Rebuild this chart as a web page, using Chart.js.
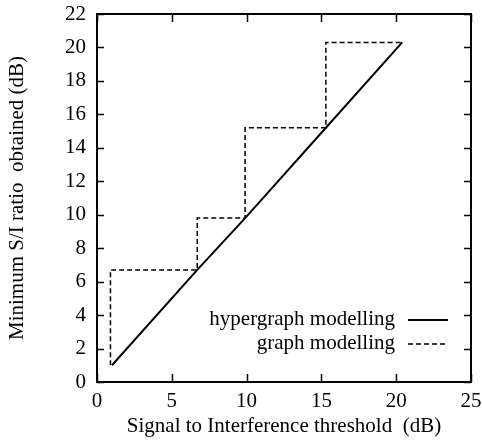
<!DOCTYPE html>
<html>
<head>
<meta charset="utf-8">
<script src="https://cdn.jsdelivr.net/npm/chart.js@4/dist/chart.umd.min.js"></script>
<style>
  body { margin: 0; background: #fff; }
  canvas { display: block; }
</style>
</head>
<body>
<canvas id="myChart" width="482" height="441"></canvas>
<script>
// data
const hyperX = [1.0, 6.7, 9.9, 15.3, 20.4];
const hyperY = [1.0, 6.7, 9.8, 15.2, 20.3];
const graphX = [0.9, 0.9, 6.7, 6.7, 9.9, 9.9, 15.3, 15.3, 20.4];
const graphY = [1.0, 6.7, 6.7, 9.8, 9.8, 15.2, 15.2, 20.3, 20.3];
const xTicks = [0, 5, 10, 15, 20, 25];
const yTicks = [0, 2, 4, 6, 8, 10, 12, 14, 16, 18, 20, 22];
const seriesNames = ['hypergraph modelling', 'graph modelling'];

const FONT = "'Liberation Serif', 'Times New Roman', serif";

function toPoints(xs, ys) {
    return xs.map((x, i) => ({ x: x, y: ys[i] }));
}

// box around the plot with ticks pointing inwards, like gnuplot
const boxPlugin = {
    id: 'box',
    afterDatasetsDraw(chart) {
        const ctx = chart.ctx;
        const a = chart.chartArea;
        const xs = chart.scales.x, ys = chart.scales.y;
        ctx.save();
        ctx.strokeStyle = '#000';
        ctx.lineWidth = 2;
        ctx.strokeRect(a.left, a.top, a.right - a.left, a.bottom - a.top);
        ctx.lineWidth = 1.5;
        ctx.beginPath();
        xs.ticks.forEach(t => {
            const px = Math.round(xs.getPixelForValue(t.value)) + 0.5;
            ctx.moveTo(px, a.bottom); ctx.lineTo(px, a.bottom - 8);
            ctx.moveTo(px, a.top); ctx.lineTo(px, a.top + 8);
        });
        ys.ticks.forEach(t => {
            const py = Math.round(ys.getPixelForValue(t.value)) + 0.5;
            ctx.moveTo(a.left, py); ctx.lineTo(a.left + 7, py);
            ctx.moveTo(a.right, py); ctx.lineTo(a.right - 7, py);
        });
        ctx.stroke();
        ctx.restore();
    }
};

// legend inside the plot: text on the left, line sample on the right
const keyPlugin = {
    id: 'key',
    afterDraw(chart) {
        const ctx = chart.ctx;
        const a = chart.chartArea;
        const textRight = a.right - 76;
        const lineStart = a.right - 63;
        const lineEnd = a.right - 23;
        let y = a.bottom - 63;
        ctx.save();
        ctx.font = '21px ' + FONT;
        ctx.fillStyle = '#000';
        ctx.textAlign = 'right';
        ctx.textBaseline = 'middle';
        chart.data.datasets.forEach(ds => {
            ctx.fillText(ds.label, textRight, y);
            ctx.strokeStyle = '#000';
            ctx.lineWidth = ds.borderWidth;
            ctx.setLineDash(ds.borderDash || []);
            ctx.beginPath();
            ctx.moveTo(lineStart, y + 1);
            ctx.lineTo(lineEnd, y + 1);
            ctx.stroke();
            y += 24;
        });
        ctx.restore();
    }
};

const ctx = document.getElementById('myChart').getContext('2d');
const myChart = new Chart(ctx, {
    type: 'line',
    data: {
        datasets: [{
            label: seriesNames[0],
            data: toPoints(hyperX, hyperY),
            borderColor: '#000',
            borderWidth: 2,
            pointRadius: 0,
            tension: 0
        }, {
            label: seriesNames[1],
            data: toPoints(graphX, graphY),
            borderColor: '#000',
            borderWidth: 1.5,
            borderDash: [5, 3],
            pointRadius: 0,
            tension: 0
        }]
    },
    options: {
        responsive: false,
        animation: false,
        layout: { padding: { left: 0, top: 14, right: 11, bottom: 0 } },
        plugins: {
            legend: { display: false },
            tooltip: { enabled: false }
        },
        scales: {
            x: {
                type: 'linear',
                min: 0,
                max: 25,
                afterBuildTicks: s => { s.ticks = xTicks.map(v => ({ value: v })); },
                afterFit: s => { s.height = 59; s.paddingLeft = 0; s.paddingRight = 0; },
                grid: { display: false, drawTicks: false },
                border: { display: false },
                ticks: { color: '#000', padding: 7, maxRotation: 0, font: { family: FONT, size: 21 } },
                title: {
                    display: true,
                    text: 'Signal to Interference threshold  (dB)',
                    color: '#000',
                    font: { family: FONT, size: 21 },
                    padding: { top: 0, bottom: 2 }
                }
            },
            y: {
                type: 'linear',
                min: 0,
                max: 22,
                afterBuildTicks: s => { s.ticks = yTicks.map(v => ({ value: v })); },
                afterFit: s => { s.width = 97; s.paddingTop = 0; s.paddingBottom = 0; },
                grid: { display: false, drawTicks: false },
                border: { display: false },
                ticks: { color: '#000', padding: 11, font: { family: FONT, size: 21 } },
                title: {
                    display: true,
                    text: 'Minimum S/I ratio  obtained (dB)',
                    color: '#000',
                    font: { family: FONT, size: 21 },
                    padding: { top: 5, bottom: 0 }
                }
            }
        }
    },
    plugins: [boxPlugin, keyPlugin]
});
</script>
</body>
</html>
